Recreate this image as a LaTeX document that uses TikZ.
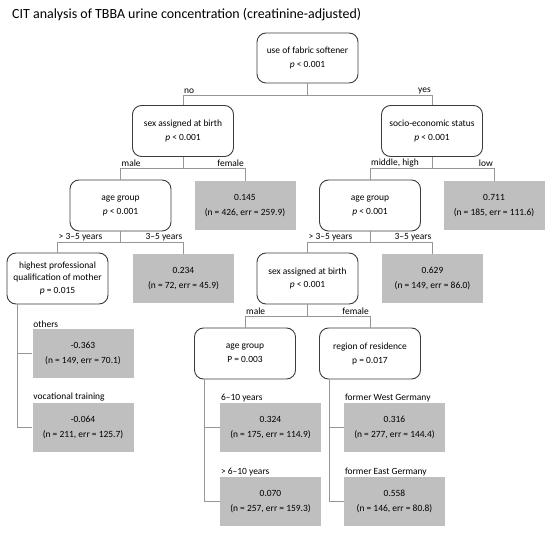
\documentclass[tikz,border=0pt]{standalone}
\usepackage{fontspec}
\setmainfont{Carlito}
\definecolor{leafgray}{RGB}{191,191,191}
\definecolor{linegray}{RGB}{150,150,150}
\definecolor{boxline}{RGB}{60,60,60}
\tikzset{
  dec/.style={draw=boxline, line width=0.9bp, rounded corners=9bp, minimum width=101bp, minimum height=51bp, align=center, inner sep=0pt, font=\fontsize{9.5}{14}\selectfont},
  leaf/.style={fill=leafgray, draw=none, minimum width=101bp, minimum height=49bp, align=center, inner sep=0pt, font=\fontsize{9.5}{15}\selectfont},
  conn/.style={draw=linegray, line width=0.7bp},
  lbl/.style={font=\fontsize{9.5}{11}\selectfont, inner sep=1bp},
}
\begin{document}
\begin{tikzpicture}[x=1bp,y=-1bp]
\useasboundingbox (0,0) rectangle (550,533);
\node[anchor=west, inner sep=0pt, font=\fontsize{14}{16}\selectfont] (title) at (12,15) {CIT analysis of TBBA urine concentration (creatinine-adjusted)};

% decision nodes
\node[dec, minimum height=50bp] (root) at (307.5,58) {use of fabric softener\\\textit{p} < 0.001};
\node[dec] (sex) at (183,131) {sex assigned at birth\\\textit{p} < 0.001};
\node[dec] (ses) at (432,131) {socio-economic status\\\textit{p} < 0.001};
\node[dec] (ageL) at (120.5,205.5) {age group\\\textit{p} < 0.001};
\node[dec] (ageR) at (370,205.5) {age group\\\textit{p} < 0.001};
\node[dec, font=\fontsize{9.5}{11.5}\selectfont] (qual) at (57.5,278.5) {highest professional\\qualification of mother\\[2bp]\textit{p} = 0.015};
\node[dec] (sexB) at (307.5,278.5) {sex assigned at birth\\\textit{p} < 0.001};
\node[dec] (ageM) at (245,353.5) {age group\\P = 0.003};
\node[dec] (region) at (370,353.5) {region of residence\\p = 0.017};

% leaves
\node[leaf] (l145) at (245,205.5) {0.145\\(n = 426, err = 259.9)};
\node[leaf] (l711) at (494,205.5) {0.711\\(n = 185, err = 111.6)};
\node[leaf] (l234) at (183.5,278.5) {0.234\\(n = 72, err = 45.9)};
\node[leaf] (l629) at (432.5,278.5) {0.629\\(n = 149, err = 86.0)};
\node[leaf] (l363) at (83,353) {-0.363\\(n = 149, err = 70.1)};
\node[leaf] (l064) at (83,427.5) {-0.064\\(n = 211, err = 125.7)};
\node[leaf] (l324) at (270.5,427.5) {0.324\\(n = 175, err = 114.9)};
\node[leaf] (l070) at (270.5,501.5) {0.070\\(n = 257, err = 159.3)};
\node[leaf] (l316) at (394.5,427.5) {0.316\\(n = 277, err = 144.4)};
\node[leaf] (l558) at (394.5,501.5) {0.558\\(n = 146, err = 80.8)};

% junction coordinates
\coordinate (j1) at (307.5,95);
\coordinate (j2) at (183,168);
\coordinate (j3) at (432,168);
\coordinate (j4) at (120.5,242);
\coordinate (j5) at (370,242);
\coordinate (j6) at (307.5,316);

% connectors
\draw[conn] (root.south) -- (j1);
\draw[conn] (j1) -| (sex.north);
\draw[conn] (j1) -| (ses.north);
\draw[conn] (sex.south) -- (j2);
\draw[conn] (j2) -| (ageL.north);
\draw[conn] (j2) -| (l145.north);
\draw[conn] (ses.south) -- (j3);
\draw[conn] (j3) -| (ageR.north);
\draw[conn] (j3) -| (l711.north);
\draw[conn] (ageL.south) -- (j4);
\draw[conn] (j4) -| (qual.north);
\draw[conn] (j4) -| (l234.north);
\draw[conn] (ageR.south) -- (j5);
\draw[conn] (j5) -| (sexB.north);
\draw[conn] (j5) -| (l629.north);
\draw[conn] (sexB.south) -- (j6);
\draw[conn] (j6) -| (ageM.north);
\draw[conn] (j6) -| (region.north);
% side branches
\draw[conn] (qual.south -| 17,0) |- (l363.west);
\draw[conn] (qual.south -| 17,0) |- (l064.west);
\draw[conn] (ageM.south -| 204.5,0) |- (l324.west);
\draw[conn] (ageM.south -| 204.5,0) |- (l070.west);
\draw[conn] (region.south -| 329,0) |- (l316.west);
\draw[conn] (region.south -| 329,0) |- (l558.west);

% branch labels
\node[lbl, anchor=south west] (lno) at (j1 -| sex.north) {no};
\node[lbl, anchor=south east] (lyes) at (j1 -| ses.north) {yes};
\node[lbl, anchor=south west] (lmale1) at (j2 -| ageL.north) {male};
\node[lbl, anchor=south east] (lfem1) at (j2 -| l145.north) {female};
\node[lbl, anchor=south west] (lmh) at (j3 -| ageR.north) {middle, high};
\node[lbl, anchor=south east] (llow) at (j3 -| l711.north) {low};
\node[lbl, anchor=south west] (lgt1) at (j4 -| qual.north) {> 3–5 years};
\node[lbl, anchor=south east] (l35a) at (j4 -| l234.north) {3–5 years};
\node[lbl, anchor=south west] (lgt2) at (j5 -| sexB.north) {> 3–5 years};
\node[lbl, anchor=south east] (l35b) at (j5 -| l629.north) {3–5 years};
\node[lbl, anchor=south west] (lmale2) at (j6 -| ageM.north) {male};
\node[lbl, anchor=south east] (lfem2) at (j6 -| region.north) {female};
\node[lbl, anchor=south west] (loth) at (l363.north west) {others};
\node[lbl, anchor=south west] (lvoc) at (l064.north west) {vocational training};
\node[lbl, anchor=south west] (l610) at (l324.north west) {6–10 years};
\node[lbl, anchor=south west] (lgt610) at (l070.north west) {> 6–10 years};
\node[lbl, anchor=south west] (lwest) at (l316.north west) {former West Germany};
\node[lbl, anchor=south west] (least) at (l558.north west) {former East Germany};
\end{tikzpicture}
\end{document}
